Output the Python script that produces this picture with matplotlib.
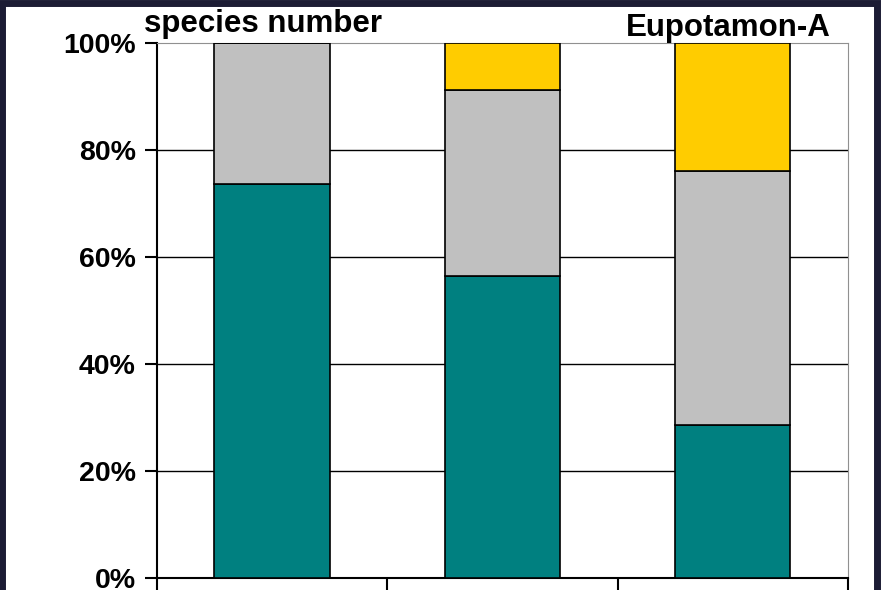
import numpy as np
import matplotlib.pyplot as plt
from matplotlib.patches import Rectangle

plt.rcParams['font.family'] = ['Liberation Sans', 'DejaVu Sans']

# Data (percent of species number)
groups = ['A', 'B', 'C']
teal_vals = [73.7, 56.5, 28.6]
gray_vals = [26.3, 34.8, 47.6]
yellow_vals = [0.0, 8.7, 23.8]
y_ticks = [0, 20, 40, 60, 80, 100]

fig = plt.figure(figsize=(8.81, 5.90), dpi=100)
ax = fig.add_axes([0.178, 0.0206, 0.7845, 0.906])

x = np.arange(len(groups))
w = 0.5
ax.bar(x, teal_vals, w, color='#008080', edgecolor='black', linewidth=1.2, zorder=3)
ax.bar(x, gray_vals, w, bottom=teal_vals, color='#C0C0C0', edgecolor='black', linewidth=1.2, zorder=3)
bottom2 = np.array(teal_vals) + np.array(gray_vals)
ax.bar(x, yellow_vals, w, bottom=bottom2, color='#FFCC00', edgecolor='black', linewidth=1.2, zorder=3)

ax.set_xlim(-0.5, 2.5)
ax.set_ylim(0, 100)
ax.set_yticks(y_ticks)
ax.set_yticklabels([f'{t}%' for t in y_ticks], fontsize=20.5, fontweight='bold')
ax.set_xticks([-0.5, 0.5, 1.5, 2.5])
ax.set_xticklabels([])
ax.tick_params(axis='both', direction='out', length=9, width=1.5, color='black')
ax.tick_params(axis='y', pad=6)

for t in y_ticks[1:-1]:
    ax.axhline(t, color='black', linewidth=1, zorder=1)

ax.spines['left'].set_color('black')
ax.spines['left'].set_linewidth(1.5)
ax.spines['bottom'].set_color('black')
ax.spines['bottom'].set_linewidth(1.5)
ax.spines['top'].set_color('#909090')
ax.spines['right'].set_color('#909090')

fig.text(0.163, 0.946, 'species number', fontsize=22.5, fontweight='bold', ha='left', va='baseline')
fig.text(0.943, 0.939, 'Eupotamon-A', fontsize=22.5, fontweight='bold', ha='right', va='baseline')

# dark frame around the slide
fig.patches.append(Rectangle((0.0025, -0.05), 0.9925, 1.045, transform=fig.transFigure,
                             fill=False, edgecolor='#1c1c34', linewidth=5, zorder=10))

fig.savefig('out.png', dpi=100)
